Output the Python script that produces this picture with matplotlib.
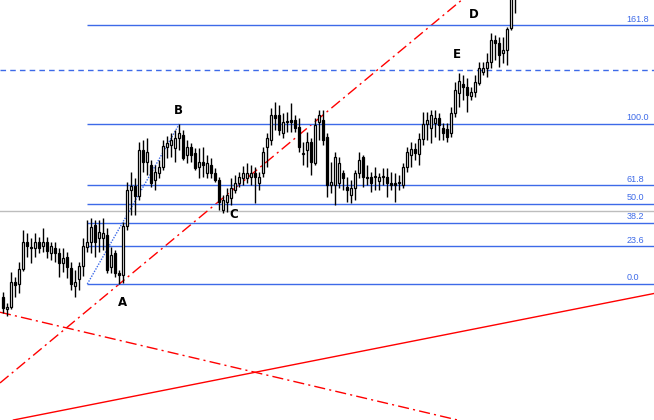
import matplotlib.pyplot as plt
import numpy as np

# candle data (price units, one candle per bar)
opens = [123, 111, 113, 138, 136, 151, 178, 173, 172, 178,
         174, 178, 167, 172, 167, 157, 163, 152, 134, 141,
         154, 173, 178, 195, 182, 182, 185, 153, 167, 147,
         145, 194, 230, 234, 224, 270, 258, 255, 240, 247,
         253, 273, 275, 272, 282, 285, 265, 273, 267, 253,
         258, 247, 255, 247, 240, 210, 218, 222, 230, 237,
         242, 242, 243, 247, 237, 247, 273, 280, 305, 305,
         287, 299, 300, 300, 293, 266, 270, 278, 257, 298,
         300, 283, 235, 235, 237, 247, 233, 225, 232, 247,
         263, 243, 243, 243, 239, 243, 243, 237, 237, 237,
         235, 253, 265, 271, 266, 281, 296, 292, 297, 302,
         292, 291, 287, 307, 327, 336, 333, 324, 328, 337,
         348, 352, 358, 380, 377, 367, 370, 392, 425]
closes = [112, 113, 138, 135, 151, 178, 174, 172, 178, 172,
          178, 169, 174, 167, 157, 162, 153, 136, 138, 154,
          174, 178, 193, 178, 188, 187, 150, 165, 147, 145,
          194, 230, 234, 224, 270, 258, 268, 237, 248, 253,
          274, 277, 280, 282, 287, 262, 273, 265, 252, 258,
          255, 257, 247, 240, 218, 220, 225, 232, 237, 243,
          247, 247, 247, 243, 243, 268, 282, 305, 302, 290,
          298, 298, 298, 292, 273, 267, 278, 258, 295, 305,
          280, 235, 238, 263, 257, 242, 230, 232, 247, 260,
          243, 242, 237, 243, 243, 243, 237, 235, 235, 237,
          253, 268, 271, 267, 281, 296, 300, 305, 302, 295,
          287, 283, 307, 330, 339, 333, 325, 328, 338, 352,
          352, 358, 380, 377, 365, 370, 391, 430, 440]
highs = [128, 117, 148, 143, 158, 190, 187, 182, 187, 183,
         192, 183, 178, 178, 172, 172, 168, 158, 150, 158,
         182, 200, 202, 200, 200, 202, 192, 173, 170, 150,
         198, 238, 248, 242, 278, 280, 282, 260, 255, 260,
         280, 284, 287, 290, 296, 290, 280, 277, 272, 272,
         273, 265, 262, 252, 243, 225, 232, 242, 245, 248,
         254, 257, 255, 253, 248, 273, 287, 312, 318, 315,
         307, 308, 317, 305, 302, 278, 288, 282, 302, 310,
         310, 287, 258, 268, 263, 250, 243, 240, 250, 268,
         265, 255, 248, 253, 247, 252, 252, 248, 247, 245,
         257, 273, 278, 277, 287, 308, 308, 310, 310, 307,
         297, 297, 313, 338, 347, 345, 342, 333, 345, 358,
         358, 367, 387, 385, 383, 383, 393, 435, 450]
lows = [107, 104, 111, 123, 127, 149, 163, 157, 163, 167,
        168, 162, 160, 158, 143, 148, 142, 130, 123, 130,
        144, 168, 167, 163, 168, 170, 147, 147, 143, 136,
        137, 190, 205, 205, 220, 248, 245, 233, 230, 242,
        250, 262, 263, 258, 270, 260, 257, 258, 250, 242,
        243, 242, 242, 238, 210, 207, 208, 215, 227, 233,
        235, 237, 235, 217, 230, 243, 253, 275, 290, 285,
        282, 288, 288, 288, 268, 255, 253, 245, 255, 280,
        275, 223, 227, 215, 232, 230, 218, 217, 220, 242,
        233, 235, 228, 230, 230, 235, 223, 230, 218, 230,
        232, 248, 253, 260, 255, 275, 280, 277, 283, 280,
        280, 278, 283, 303, 313, 320, 308, 320, 323, 335,
        345, 343, 352, 360, 353, 357, 355, 390, 407]

# fibonacci retracement drawn from A (low) to B (high)
fib_ratios = [0.0, 0.236, 0.382, 0.5, 0.618, 1.0, 1.618]
fib_labels = ['0.0', '23.6', '38.2', '50.0', '61.8', '100.0', '161.8']
fib_low = 136
fib_high = 296
fib_start = 21
fib_end = 44

# other horizontal lines
dashed_level = 350
gray_level = 209

# trend lines (two points each)
red_line1 = [(29, 136), (114, 418)]
red_line2 = [(0, 107), (100, 12.8)]
red_line3 = [(0, -2), (160, 124.4)]

# wave labels
point_names = ['A', 'B', 'C', 'D', 'E']
point_x = [29.7, 43.7, 57.7, 117.7, 113.4]
point_y = [117, 309, 206, 406, 365]

blue = '#3D6AE8'

fig = plt.figure(figsize=(6.54, 4.2), dpi=100)
ax = fig.add_axes([0, 0, 1, 1])
ax.set_xlim(-0.825, 162.675)
ax.set_ylim(0, 420)
ax.axis('off')

# background lines
ax.axhline(gray_level, color='#BDBDBD', lw=1.0, zorder=1)
ax.axhline(dashed_level, color=blue, lw=1.0, linestyle=(0, (4, 3)), zorder=1)

ax.axline(red_line1[0], red_line1[1], color='red', lw=1.0,
          linestyle=(0, (8, 3, 1.5, 3)), zorder=2)
ax.axline(red_line2[0], red_line2[1], color='red', lw=1.0,
          linestyle=(0, (8, 3, 1.5, 3)), zorder=2)
ax.axline(red_line3[0], red_line3[1], color='red', lw=1.0, zorder=2)

# fibonacci levels
for r, lab in zip(fib_ratios, fib_labels):
    level = fib_low + r * (fib_high - fib_low)
    ax.hlines(level, fib_start, 170, color=blue, lw=1.0, zorder=2)
    ax.text(155.8, level + 1.5, lab, color=blue, fontsize=6.5,
            family='Liberation Sans', ha='left', va='bottom')

ax.plot([fib_start, fib_end], [fib_low, fib_high], color=blue, lw=1.0,
        linestyle=(0, (1, 1)), zorder=2)

# candles
idx = np.arange(len(opens))
o = np.array(opens, dtype=float)
c = np.array(closes, dtype=float)
ax.vlines(idx, lows, highs, color='black', lw=1.0, zorder=3)
bottoms = np.minimum(o, c)
heights = np.maximum(np.abs(c - o), 0.6)
colors = ['black' if cc < oo else 'white' for oo, cc in zip(o, c)]
ax.bar(idx, heights, width=0.55, bottom=bottoms, color=colors,
       edgecolor='black', linewidth=0.9, zorder=4)

for name, x, y in zip(point_names, point_x, point_y):
    ax.text(x, y, name, fontsize=8.5, fontweight='bold', color='black',
            ha='center', va='center', zorder=5)

fig.savefig('out.png', dpi=100)
